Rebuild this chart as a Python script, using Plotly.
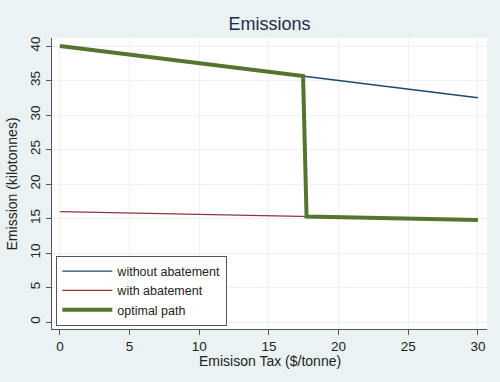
import plotly.graph_objects as go

tax = [0, 5, 10, 15, 17.5, 20, 25, 30]
without_abatement = [40, 38.75, 37.5, 36.25, 35.63, 35.0, 33.75, 32.5]
with_abatement = [16, 15.8, 15.6, 15.4, 15.3, 15.2, 15.0, 14.8]
opt_x = [0, 17.45, 17.7, 30]
opt_y = [40, 35.64, 15.3, 14.8]

fig = go.Figure()
fig.add_trace(go.Scatter(x=tax, y=without_abatement, mode="lines", name="without abatement",
                         line=dict(color="#1a476f", width=1.3)))
fig.add_trace(go.Scatter(x=tax, y=with_abatement, mode="lines", name="with abatement",
                         line=dict(color="#90353b", width=1.3)))
fig.add_trace(go.Scatter(x=opt_x, y=opt_y, mode="lines", name="optimal path",
                         line=dict(color="#55752f", width=4)))

axis_common = dict(showline=True, linecolor="#555555", linewidth=1.3, ticks="outside",
                   ticklen=5, tickcolor="#555555", showgrid=True, gridcolor="#eaf2f3",
                   gridwidth=1, zeroline=False, automargin=False,
                   tickfont=dict(size=13.5, color="#222222"))
fig.update_layout(
    width=500, height=382,
    paper_bgcolor="#eaf2f3", plot_bgcolor="#ffffff",
    margin=dict(l=52, r=13, t=38, b=53),
    font=dict(family="Liberation Sans, Arial, sans-serif", color="#222222"),
    title=dict(text="Emissions", x=0.5, xref="paper", y=0.937, yanchor="middle",
               font=dict(size=18, color="#1e2d4a")),
    xaxis=dict(range=[-0.57, 30.65], tickvals=[0, 5, 10, 15, 20, 25, 30], **axis_common),
    yaxis=dict(range=[-1.0, 41.16], tickvals=[0, 5, 10, 15, 20, 25, 30, 35, 40], tickangle=-90,
               **axis_common),
    legend=dict(x=0.01, y=0.012, xanchor="left", yanchor="bottom", bgcolor="#ffffff",
                bordercolor="#555555", borderwidth=1, font=dict(size=12.5, color="#222222"),
                tracegroupgap=0, itemwidth=50),
    showlegend=True,
    annotations=[
        dict(text="Emisison Tax ($/tonne)", xref="paper", yref="paper", x=0.5, y=-0.11,
             xanchor="center", yanchor="middle", showarrow=False, font=dict(size=14)),
        dict(text="Emission (kilotonnes)", xref="paper", yref="paper", x=-0.092, y=0.5,
             xanchor="center", yanchor="middle", textangle=-90, showarrow=False,
             font=dict(size=14)),
    ],
)
fig.write_html("out.html", config={"displayModeBar": False},
               post_script="document.body.style.margin='0';document.body.style.overflow='hidden';")
